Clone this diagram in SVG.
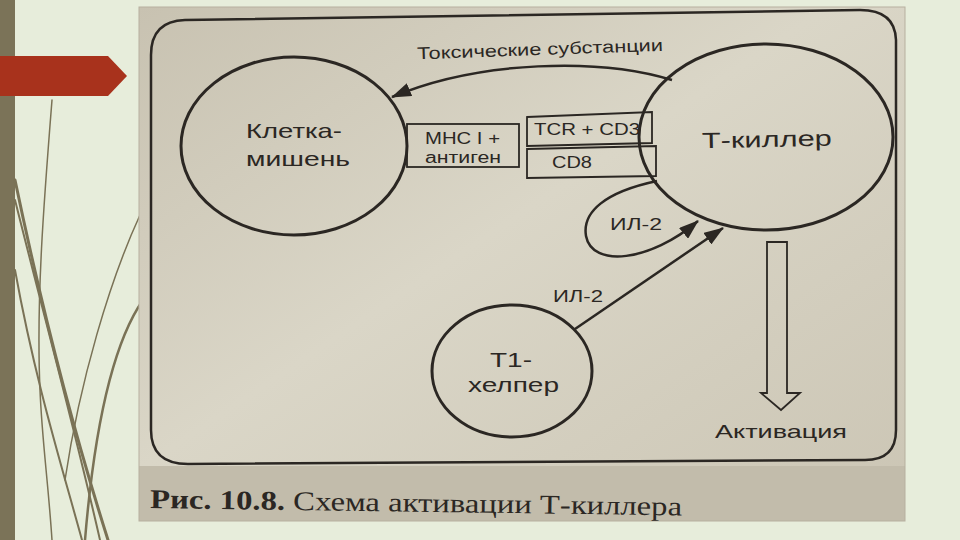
<svg xmlns="http://www.w3.org/2000/svg" width="960" height="540" viewBox="0 0 960 540">
<defs>
<linearGradient id="photo" x1="0" y1="0" x2="1" y2="1">
<stop offset="0" stop-color="#c8c2b1"/>
<stop offset="0.45" stop-color="#dad6c7"/>
<stop offset="1" stop-color="#cbc5b4"/>
</linearGradient>
<marker id="ah2" markerWidth="20" markerHeight="14" refX="19" refY="7" orient="auto" markerUnits="userSpaceOnUse" viewBox="0 0 20 14">
<path d="M0,0 L20,7 L0,14 Z" fill="#2b2723"/>
</marker>
<style>
.ln{fill:none;stroke:#2b2723;stroke-width:2.5}
.node{fill:none;stroke:#2b2723;stroke-width:3}
.box{fill:none;stroke:#2b2723;stroke-width:1.8}
.t{font-family:"Liberation Sans",Arial,sans-serif;fill:#2b2723}
.grass{fill:none;stroke:#7a7256;stroke-linecap:round}
</style>
</defs>
<rect width="960" height="540" fill="#e7eddb"/>
<rect x="0" y="0" width="15" height="540" fill="#7b7358"/>
<g id="grass">
<path class="grass" d="M15,180 C40,300 70,420 108,540" stroke-width="3"/>
<path class="grass" d="M15,200 C45,320 75,430 100,540" stroke-width="2"/>
<path class="grass" d="M52,100 C44,200 36,300 40,390 C42,440 48,480 52,540" stroke-width="1.5"/>
<path class="grass" d="M143,300 C115,340 95,420 85,540" stroke-width="2.5"/>
<path class="grass" d="M140,215 C110,280 80,380 65,480" stroke-width="1.5" stroke="#c5c9b2"/>
<path class="grass" d="M15,270 C35,380 60,460 82,540" stroke-width="2" stroke="#c8ccb6"/>
</g>
<path d="M0,56 L108,56 L127,76 L108,96 L0,96 Z" fill="#a8321c"/>
<rect x="139" y="7" width="766" height="514" fill="url(#photo)"/>
<rect x="139" y="466" width="766" height="55" fill="#c2bcab"/>
<rect x="139" y="7" width="766" height="514" fill="none" stroke="#b7b09f" stroke-width="1"/>
<path d="M185,20 L860,10 Q895,10 896,40 L896,430 Q896,460 865,460 L188,464 Q151,464 151,430 L151,55 Q151,21 185,20 Z" fill="none" stroke="#2b2723" stroke-width="2.5"/>
<g id="connectors">
<path class="ln" d="M672,80 C600,58 480,60 392,97" marker-end="url(#ah2)"/>
<path class="ln" d="M657,181 C605,192 582,212 586,236 C592,268 650,262 698,221" marker-end="url(#ah2)"/>
<path class="ln" d="M575,329 L723,228" marker-end="url(#ah2)"/>
<path d="M767,242 L787,242 L787,393 L800,393 L781,410 L761,393 L767,393 Z" fill="none" stroke="#2b2723" stroke-width="1.8"/>
<text class="t" x="417" y="55" font-size="17" textLength="246" lengthAdjust="spacingAndGlyphs" transform="rotate(-2 540 50)">Токсические субстанции</text>
<text class="t" x="610" y="230" font-size="16" textLength="52" lengthAdjust="spacingAndGlyphs">ИЛ-2</text>
<text class="t" x="553" y="302" font-size="16" textLength="50" lengthAdjust="spacingAndGlyphs">ИЛ-2</text>
<text class="t" x="715" y="438" font-size="19" textLength="132" lengthAdjust="spacingAndGlyphs">Активация</text>
</g>
<g id="target-cell">
<ellipse class="node" cx="294" cy="146" rx="113" ry="89"/>
<text class="t" x="246" y="138" font-size="21" textLength="96" lengthAdjust="spacingAndGlyphs">Клетка-</text>
<text class="t" x="246" y="166" font-size="21" textLength="104" lengthAdjust="spacingAndGlyphs">мишень</text>
</g>
<g id="mhc">
<rect class="box" x="407" y="124" width="112" height="43"/>
<text class="t" x="425" y="144" font-size="16" textLength="75" lengthAdjust="spacingAndGlyphs">МНС I +</text>
<text class="t" x="425" y="163" font-size="16" textLength="76" lengthAdjust="spacingAndGlyphs">антиген</text>
</g>
<g id="tcr">
<path class="box" d="M527,117 L652,112 L652,143 L527,146 Z"/>
<text class="t" x="534" y="135" font-size="17" textLength="106" lengthAdjust="spacingAndGlyphs">TCR + CD3</text>
</g>
<g id="cd8">
<path class="box" d="M527,149 L656,146 L656,176 L527,178 Z"/>
<text class="t" x="552" y="168" font-size="17" textLength="40" lengthAdjust="spacingAndGlyphs">CD8</text>
</g>
<g id="t-killer">
<ellipse class="node" cx="766" cy="137" rx="127" ry="93"/>
<text class="t" x="702" y="147" font-size="22" textLength="130" lengthAdjust="spacingAndGlyphs" transform="rotate(-1.2 767 146)">Т-киллер</text>
</g>
<g id="t1-helper">
<ellipse class="node" cx="512" cy="371" rx="80" ry="66"/>
<text class="t" x="490" y="367" font-size="21" textLength="42" lengthAdjust="spacingAndGlyphs">Т1-</text>
<text class="t" x="468" y="392" font-size="21" textLength="91" lengthAdjust="spacingAndGlyphs">хелпер</text>
</g>
<text x="150" y="508" font-family="'Liberation Serif','Times New Roman',serif" font-size="27" fill="#2b2723" textLength="532" lengthAdjust="spacingAndGlyphs" transform="rotate(0.8 150 508)"><tspan font-weight="bold">Рис. 10.8.</tspan> Схема активации Т-киллера</text>
</svg>
